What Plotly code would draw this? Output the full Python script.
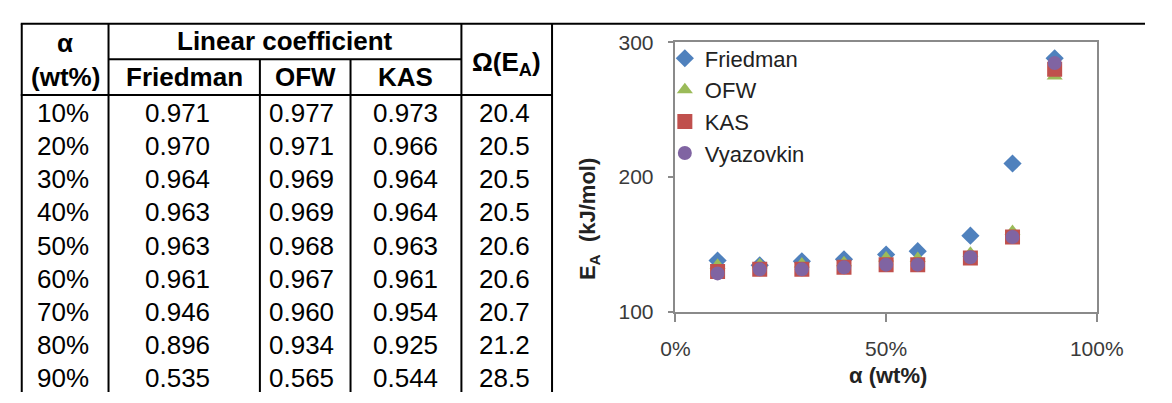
import plotly.graph_objects as go

# ---------------- data ----------------
alpha_labels = ["10%", "20%", "30%", "40%", "50%", "60%", "70%", "80%", "90%"]
r_friedman = [0.971, 0.970, 0.964, 0.963, 0.963, 0.961, 0.946, 0.896, 0.535]
r_ofw = [0.977, 0.971, 0.969, 0.969, 0.968, 0.967, 0.960, 0.934, 0.565]
r_kas = [0.973, 0.966, 0.964, 0.964, 0.963, 0.961, 0.954, 0.925, 0.544]
omega_ea = [20.4, 20.5, 20.5, 20.5, 20.6, 20.6, 20.7, 21.2, 28.5]

alpha_x = [0.10, 0.20, 0.30, 0.40, 0.50, 0.575, 0.70, 0.80, 0.90]
E_friedman = [138, 134.5, 137.5, 139, 142.5, 145, 156.5, 210, 288]
E_ofw = [134.5, 135, 135.5, 136.5, 140, 139.5, 143.5, 159.5, 275]
E_kas = [130, 131.5, 131.5, 133, 135, 135, 140, 155.5, 280]
E_vyaz = [128.5, 131.5, 131.5, 133, 135, 135, 140.5, 155.5, 284.5]

# ---------------- geometry (pixels) ----------------
W, H = 1172, 403
FONT = "Arial, Liberation Sans, sans-serif"


def px(x):
    return x / W


def py(y):
    return 1 - y / H


fig = go.Figure()

series = [
    ("Friedman", E_friedman, "#4F81BD", "diamond", 14),
    ("OFW", E_ofw, "#9BBB59", "triangle-up", 14),
    ("KAS", E_kas, "#C0504D", "square", 15),
    ("Vyazovkin", E_vyaz, "#8064A2", "circle", 14),
]
for name, ys, col, sym, sz in series:
    fig.add_trace(go.Scatter(
        x=alpha_x, y=ys, mode="markers", name=name, legendgroup=name,
        marker=dict(color=col, symbol=sym, size=sz, line=dict(width=0)),
    ))

ax_x0, ax_x1, ax_ytop, ax_ybot = 685, 1122, 32, 318
axis_col = "#8a8a8a"
tick_font = dict(family=FONT, size=21, color="#3a3a3a")

fig.update_layout(
    width=W, height=H,
    margin=dict(l=0, r=0, t=0, b=0),
    paper_bgcolor="white", plot_bgcolor="white",
    showlegend=True,
    legend=dict(x=px(674), y=py(27), xanchor="left", yanchor="top",
                font=dict(family=FONT, size=22, color="#222"),
                bgcolor="rgba(0,0,0,0)", itemwidth=30, tracegroupgap=4,
                traceorder="normal"),
    xaxis=dict(domain=[px(ax_x0), px(ax_x1)], range=[0, 1], dtick=0.5,
               tickformat=".0%", showgrid=False, zeroline=False,
               showline=True, linecolor=axis_col, linewidth=1.5, mirror=True,
               ticks="outside", ticklen=8, tickcolor=axis_col, tickwidth=1.5,
               ticklabelstandoff=9, tickfont=tick_font),
    yaxis=dict(domain=[py(ax_ybot), py(ax_ytop)], range=[100, 300], dtick=100,
               showgrid=False, zeroline=False,
               showline=True, linecolor=axis_col, linewidth=1.5, mirror=True,
               ticks="outside", ticklen=6, tickcolor=axis_col, tickwidth=1.5,
               ticklabelstandoff=10, tickfont=tick_font),
)

annotations = []
# axis titles
annotations.append(dict(text="<b>α (wt%)</b>", x=px(905), y=py(385), xref="paper", yref="paper",
                        showarrow=False, xanchor="center", yanchor="middle",
                        font=dict(family=FONT, size=22, color="#222")))
annotations.append(dict(text="<b>E<sub>A</sub>  (kJ/mol)</b>", x=px(596), y=py(220), xref="paper", yref="paper",
                        showarrow=False, xanchor="center", yanchor="middle", textangle=-90,
                        font=dict(family=FONT, size=22, color="#222")))

# ---------------- table ----------------
col_lines = [7, 97, 254, 348, 463, 557]
top_y, sub_y, head_y, bot_y = 12.5, 50, 88, 403
shapes = []


def hline(x0, x1, y):
    shapes.append(dict(type="line", xref="paper", yref="paper", x0=px(x0), x1=px(x1),
                       y0=py(y), y1=py(y), line=dict(color="black", width=2)))


def vline(x, y0, y1):
    shapes.append(dict(type="line", xref="paper", yref="paper", x0=px(x), x1=px(x),
                       y0=py(y0), y1=py(y1), line=dict(color="black", width=2)))


hline(col_lines[0] - 1, W, top_y)
hline(col_lines[1], col_lines[4], sub_y)
hline(col_lines[0] - 1, col_lines[5] + 1, head_y)
vline(col_lines[0], top_y, bot_y)
vline(col_lines[1], top_y, bot_y)
vline(col_lines[2], sub_y, bot_y)
vline(col_lines[3], sub_y, bot_y)
vline(col_lines[4], top_y, bot_y)
vline(col_lines[5], top_y, bot_y)


def cell(text, xc, yc, bold=False, size=26):
    t = f"<b>{text}</b>" if bold else text
    annotations.append(dict(text=t, x=px(xc), y=py(yc), xref="paper", yref="paper",
                            showarrow=False, xanchor="center", yanchor="middle",
                            font=dict(family=FONT, size=size, color="black")))


cx = [(col_lines[i] + col_lines[i + 1]) / 2 for i in range(5)]
cell("α", cx[0], 33, bold=True)
cell("(wt%)", cx[0], 69, bold=True)
cell("Linear coefficient", (col_lines[1] + col_lines[4]) / 2, 31, bold=True)
cell("Friedman", cx[1], 69, bold=True)
cell("OFW", cx[2], 69, bold=True)
cell("KAS", cx[3], 69, bold=True)
cell("Ω(E<sub>A</sub>)", cx[4], 55, bold=True)

row0, row_h = 107, 35.2
for i, lab in enumerate(alpha_labels):
    yc = row0 + i * row_h
    cell(lab, cx[0] - 2, yc)
    cell(f"{r_friedman[i]:.3f}", cx[1] - 7, yc)
    cell(f"{r_ofw[i]:.3f}", cx[2] - 4, yc)
    cell(f"{r_kas[i]:.3f}", cx[3], yc)
    cell(f"{omega_ea[i]:.1f}", cx[4] - 2, yc)

fig.update_layout(shapes=shapes, annotations=annotations)
fig.write_html("out.html")
